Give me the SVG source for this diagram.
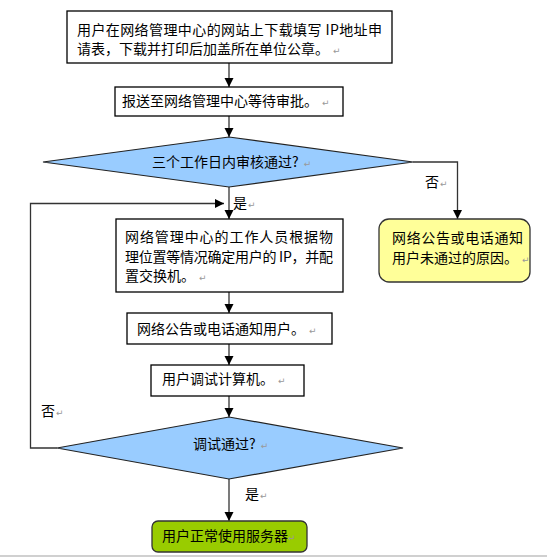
<svg xmlns="http://www.w3.org/2000/svg" width="547" height="558" viewBox="0 0 547 558">
<style>
text{font-family:"Noto Sans CJK SC","Liberation Sans",sans-serif;font-size:14px;fill:#000}
.pm{font-family:"DejaVu Sans",sans-serif;font-size:9px;fill:#999}
.box{fill:#fff;stroke:#000;stroke-width:1.3}
.dia{fill:#99ccff;stroke:#222;stroke-width:1.2}
.con{fill:none;stroke:#333;stroke-width:1.3}
</style>
<defs>
<marker id="ah" markerWidth="10" markerHeight="10" refX="9" refY="5" orient="auto" markerUnits="userSpaceOnUse">
<path d="M0,0.5 L9,5 L0,9.5 Z" fill="#000"/>
</marker>
</defs>
<rect width="547" height="558" fill="#fff"/>
<line x1="0" y1="556" x2="547" y2="556" stroke="#d0d0d0" stroke-width="2"/>

<g id="connectors">
<line class="con" x1="229" y1="63" x2="229" y2="87" marker-end="url(#ah)"/>
<line class="con" x1="229" y1="116" x2="229" y2="137" marker-end="url(#ah)"/>
<line class="con" x1="229" y1="187" x2="229" y2="219" marker-end="url(#ah)"/>
<path class="con" d="M413,162 H457.5 V219" marker-end="url(#ah)"/>
<path class="con" d="M57,448 H30.5 V203.5 H224" marker-end="url(#ah)"/>
<line class="con" x1="229" y1="292" x2="229" y2="313" marker-end="url(#ah)"/>
<line class="con" x1="229" y1="344" x2="229" y2="365" marker-end="url(#ah)"/>
<line class="con" x1="229" y1="396" x2="229" y2="417" marker-end="url(#ah)"/>
<line class="con" x1="229" y1="479" x2="229" y2="521" marker-end="url(#ah)"/>
<text x="425" y="187">否<tspan class="pm" dx="1">↵</tspan></text>
<text x="233" y="208">是<tspan class="pm" dx="1">↵</tspan></text>
<text x="41" y="416">否<tspan class="pm" dx="1">↵</tspan></text>
<text x="245" y="499">是<tspan class="pm" dx="1">↵</tspan></text>
</g>

<g id="n1">
<rect class="box" x="67" y="11" width="325" height="52"/>
<text x="77" y="35" textLength="305" lengthAdjust="spacing">用户在网络管理中心的网站上下载填写 IP地址申</text>
<text x="77" y="54">请表，下载并打印后加盖所在单位公章。<tspan class="pm" dx="4">↵</tspan></text>
</g>

<g id="n2">
<rect class="box" x="115" y="87" width="228" height="29"/>
<text x="122" y="106">报送至网络管理中心等待审批。<tspan class="pm" dx="4">↵</tspan></text>
</g>

<g id="n3">
<polygon class="dia" points="43,162 229,137 413,162 229,187"/>
<text x="152" y="167">三个工作日内审核通过?<tspan class="pm" dx="5">↵</tspan></text>
</g>

<g id="n4">
<rect x="379" y="219" width="151" height="63" rx="10" ry="10" fill="#ffff99" stroke="#333" stroke-width="1.3"/>
<text x="392" y="243" textLength="131" lengthAdjust="spacing">网络公告或电话通知</text>
<text x="392" y="263">用户未通过的原因。<tspan class="pm" dx="4">↵</tspan></text>
</g>

<g id="n5">
<rect class="box" x="116" y="219" width="227" height="73"/>
<text x="125" y="242" textLength="208" lengthAdjust="spacing">网络管理中心的工作人员根据物</text>
<text x="125" y="262" textLength="208" lengthAdjust="spacing">理位置等情况确定用户的 IP，并配</text>
<text x="125" y="281">置交换机。<tspan class="pm" dx="4">↵</tspan></text>
</g>

<g id="n6">
<rect class="box" x="127" y="313" width="205" height="31"/>
<text x="137" y="334">网络公告或电话通知用户。<tspan class="pm" dx="4">↵</tspan></text>
</g>

<g id="n7">
<rect class="box" x="151" y="365" width="153" height="31"/>
<text x="162" y="384">用户调试计算机。<tspan class="pm" dx="4">↵</tspan></text>
</g>

<g id="n8">
<polygon class="dia" points="57,448 229,417 403,448 229,479"/>
<text x="193" y="449">调试通过?<tspan class="pm" dx="5">↵</tspan></text>
</g>

<g id="n9">
<rect x="152" y="521" width="155" height="31" rx="6" ry="6" fill="#99cc00" stroke="#333" stroke-width="1.3"/>
<text x="162" y="541">用户正常使用服务器<tspan class="pm" dx="0">↵</tspan></text>
</g>
</svg>
